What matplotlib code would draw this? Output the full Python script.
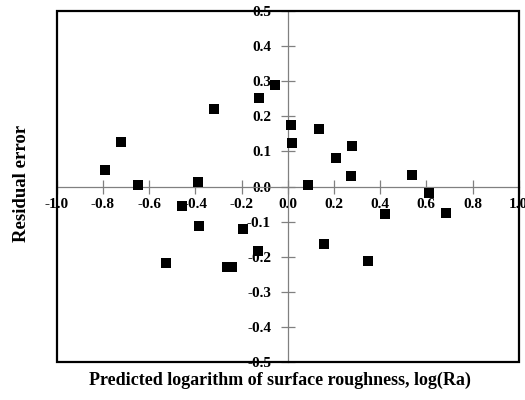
import matplotlib
matplotlib.use("Agg")
import matplotlib.pyplot as plt
from matplotlib.patches import Rectangle

predicted = [-0.79, -0.72, -0.648, -0.387, -0.318, -0.123, -0.055,
             0.014, 0.017, 0.137, 0.209, 0.28, 0.275, 0.087, 0.539, 0.61,
             0.421, 0.684, -0.458, -0.384, -0.195, -0.127, -0.528, -0.264,
             -0.242, 0.157, 0.349]
residual = [0.046, 0.128, 0.004, 0.012, 0.222, 0.251, 0.289,
            0.176, 0.123, 0.165, 0.082, 0.114, 0.030, 0.004, 0.033, -0.018,
            -0.077, -0.076, -0.055, -0.112, -0.122, -0.183, -0.217, -0.228,
            -0.228, -0.163, -0.213]
xticks = [-1.0, -0.8, -0.6, -0.4, -0.2, 0.0, 0.2, 0.4, 0.6, 0.8, 1.0]
yticks = [-0.5, -0.4, -0.3, -0.2, -0.1, 0.0, 0.1, 0.2, 0.3, 0.4, 0.5]

plt.rcParams['font.family'] = ['Liberation Serif', 'DejaVu Serif']
plt.rcParams['font.weight'] = 'bold'

fig = plt.figure(figsize=(5.25, 4.0), dpi=100)
ax = fig.add_axes([0.108, 0.095, 0.880, 0.8775])

ax.scatter(predicted, residual, marker='s', s=42, color='black', zorder=3, linewidths=0)

ax.set_xlim(-1.0, 1.0)
ax.set_ylim(-0.5, 0.5)

for side in ['left', 'bottom']:
    ax.spines[side].set_position(('data', 0))
    ax.spines[side].set_color('#808080')
    ax.spines[side].set_linewidth(0.9)
for side in ['top', 'right']:
    ax.spines[side].set_visible(False)

ax.add_patch(Rectangle((0, 0), 1, 1, transform=ax.transAxes, fill=False,
                       edgecolor='black', linewidth=1.6, clip_on=False, zorder=4))

ax.set_xticks(xticks)
ax.set_yticks(yticks)
ax.set_xticklabels([f"{v:.1f}" for v in xticks])
ax.set_yticklabels([f"{v:.1f}" for v in yticks])
ax.tick_params(axis='both', direction='inout', length=10, width=0.9, color='#808080',
               labelsize=11, labelcolor='black')
ax.tick_params(axis='x', pad=3)
ax.tick_params(axis='y', pad=7)
for lab in ax.get_xticklabels() + ax.get_yticklabels():
    lab.set_fontweight('bold')

fig.text(0.533, 0.05, 'Predicted logarithm of surface roughness, log(Ra)',
         ha='center', va='center', fontsize=13, fontweight='bold')
fig.text(0.041, 0.541, 'Residual error', ha='center', va='center',
         rotation=90, fontsize=13.5, fontweight='bold')

fig.savefig('out.png', dpi=100)
